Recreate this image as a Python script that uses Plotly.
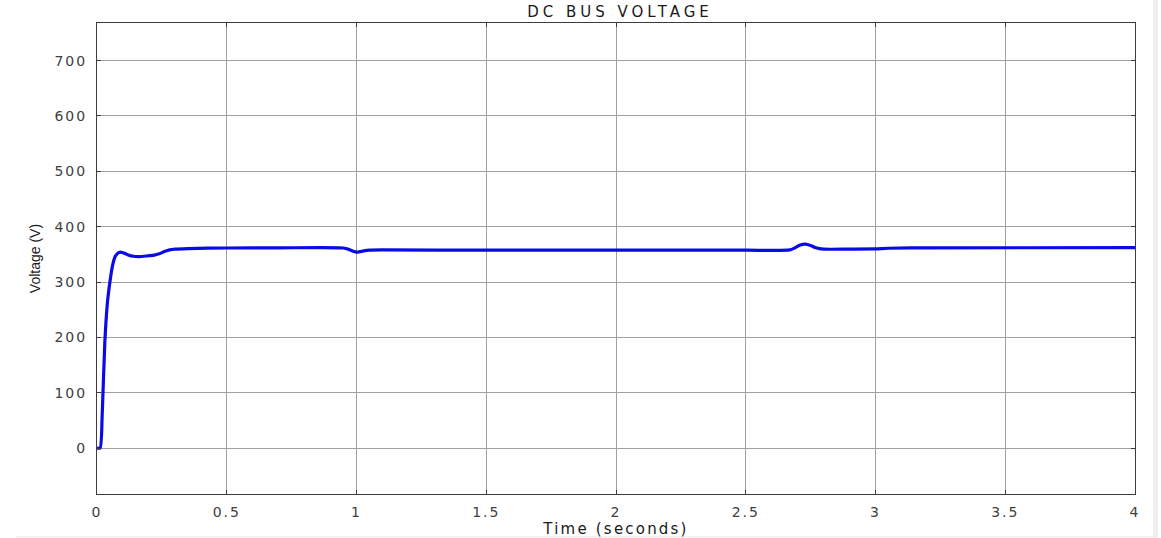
import plotly.graph_objects as go

# DC bus voltage trace (time in seconds, voltage in volts)
time_s = [0.0, 0.012, 0.02, 0.03, 0.04, 0.05, 0.06, 0.07, 0.08, 0.09, 0.10,
          0.12, 0.14, 0.16, 0.19, 0.22, 0.24, 0.26, 0.28, 0.30, 0.35, 0.50,
          0.70, 0.95, 0.97, 0.99, 1.00, 1.02, 1.05, 1.10, 1.50, 2.00, 2.50,
          2.67, 2.69, 2.71, 2.73, 2.75, 2.77, 2.80, 2.90, 3.00, 3.05, 3.20, 4.00]
voltage_v = [0, 0, 60, 190, 262, 301, 330, 346, 352, 354, 353,
             349, 346.5, 346, 347, 348.5, 351, 355, 358, 359.5, 360.5, 361.5,
             361.8, 361.5, 359, 355, 354, 355.5, 357.5, 358, 357.5, 357.5, 357.5,
             358, 362, 367, 368.5, 366, 362, 359.5, 359.5, 359.8, 361, 361.8, 362]

x_ticks = [0, 0.5, 1, 1.5, 2, 2.5, 3, 3.5, 4]
x_tick_labels = ["0", "0.5", "1", "1.5", "2", "2.5", "3", "3.5", "4"]
y_ticks = [0, 100, 200, 300, 400, 500, 600, 700]
y_tick_labels = ["0", "100", "200", "300", "400", "500", "600", "700"]

title_text = "DC BUS VOLTAGE"
x_title = "Time (seconds)"
y_title = "Voltage (V)"


def spaced(s, px):
    return f'<span style="letter-spacing:{px}px">{s}</span>'


fig = go.Figure()
fig.add_trace(go.Scatter(
    x=time_s, y=voltage_v, mode="lines",
    line=dict(color="#0a0ae6", width=3.2, shape="spline", smoothing=0.6),
    hoverinfo="skip", showlegend=False,
))

tick_font = dict(family="DejaVu Sans", size=14, color="#404040")
axis_common = dict(
    showline=True, linecolor="#3c3c3c", linewidth=1, mirror="ticks",
    ticks="inside", ticklen=4, tickcolor="#3c3c3c", tickwidth=1,
    showgrid=True, gridcolor="#a0a0a0", gridwidth=1,
    zeroline=False, tickfont=tick_font, automargin=False,
)

fig.update_layout(
    width=1161, height=538,
    margin=dict(l=97, r=26, t=23, b=44),
    paper_bgcolor="white", plot_bgcolor="white",
    title=dict(
        text=spaced(title_text, 4),
        font=dict(family="DejaVu Sans", size=15, color="#1a1a1a"),
        x=(620 - 97) / 1038, xref="paper", xanchor="center",
        y=1 - 11.5 / 538, yref="container", yanchor="middle",
    ),
    xaxis=dict(
        range=[0, 4], tickmode="array", tickvals=x_ticks,
        ticktext=[spaced(t, 2) for t in x_tick_labels],
        ticklabelstandoff=5,
        title=dict(text=spaced(x_title, 2.2),
                   font=dict(family="DejaVu Sans", size=15, color="#1a1a1a"),
                   standoff=2),
        **axis_common,
    ),
    yaxis=dict(
        range=[-83, 768], tickmode="array", tickvals=y_ticks,
        ticktext=[spaced(t, 2) for t in y_tick_labels],
        ticklabelstandoff=6,
        title=dict(text=y_title,
                   font=dict(family="Liberation Sans Narrow, Liberation Sans",
                             size=14, color="#1a1a1a"),
                   standoff=10),
        **axis_common,
    ),
    shapes=[
        dict(type="rect", xref="paper", yref="paper",
             x0=(1153 - 97) / 1038, x1=(1158 - 97) / 1038,
             y0=(494 - 538) / 471, y1=(494 - 0) / 471,
             fillcolor="#efefef", line=dict(width=0), layer="below"),
        dict(type="line", xref="paper", yref="paper",
             x0=(16 - 97) / 1038, x1=(1153 - 97) / 1038,
             y0=(494 - 537) / 471, y1=(494 - 537) / 471,
             line=dict(color="#e6e6e6", width=1)),
    ],
)

fig.write_html("out.html")
